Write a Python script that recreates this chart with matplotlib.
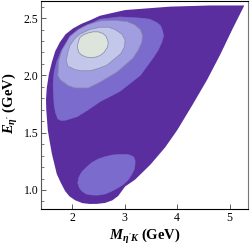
import matplotlib
matplotlib.use("Agg")
import matplotlib.pyplot as plt
from matplotlib.ticker import MultipleLocator, FixedLocator

plt.rcParams['mathtext.fontset'] = 'custom'
plt.rcParams['mathtext.rm'] = 'Liberation Serif'
plt.rcParams['mathtext.it'] = 'Liberation Serif:italic'
plt.rcParams['mathtext.bf'] = 'Liberation Serif:bold'
plt.rcParams['mathtext.bfit'] = 'Liberation Serif:bold:italic'
plt.rcParams['font.family'] = ['Liberation Serif', 'DejaVu Serif']

# Region boundaries (M_{eta'K}, E_{eta'}) in GeV
outer_x = [5.28, 4.63, 3.87, 3.01, 2.72, 2.53, 2.34, 2.18, 2.02, 1.88, 1.77, 1.68, 1.62, 1.56, 1.52, 1.505, 1.51, 1.54, 1.58, 1.62, 1.71, 1.79, 1.87, 1.95, 2.06, 2.20, 2.34, 2.48, 2.63, 2.77, 2.88, 3.01, 3.20, 3.49, 3.77, 4.00, 4.29, 4.57, 4.82, 5.05]
outer_y = [2.61, 2.61, 2.60, 2.57, 2.54, 2.52, 2.48, 2.45, 2.41, 2.36, 2.29, 2.21, 2.12, 2.01, 1.89, 1.79, 1.70, 1.52, 1.41, 1.31, 1.14, 1.06, 0.99, 0.945, 0.91, 0.885, 0.878, 0.879, 0.887, 0.91, 0.948, 1.03, 1.09, 1.22, 1.37, 1.52, 1.74, 1.96, 2.18, 2.40]

lev2_x = [1.73, 1.69, 1.66, 1.64, 1.66, 1.71, 1.79, 1.90, 2.04, 2.21, 2.53, 2.91, 3.30, 3.48, 3.62, 3.69, 3.73, 3.74, 3.71, 3.64, 3.54, 3.30, 2.91, 2.53, 2.31, 2.10, 1.89, 1.80]
lev2_y = [1.62, 1.67, 1.74, 1.92, 2.03, 2.12, 2.21, 2.29, 2.36, 2.42, 2.49, 2.51, 2.50, 2.49, 2.46, 2.43, 2.38, 2.34, 2.29, 2.22, 2.15, 2.00, 1.86, 1.77, 1.70, 1.64, 1.61, 1.605]

lev3_x = [1.73, 1.75, 1.81, 1.96, 2.12, 2.29, 2.53, 2.80, 3.05, 3.20, 3.30, 3.34, 3.33, 3.26, 3.16, 2.86, 2.53, 2.31, 2.06, 1.93, 1.87, 1.78]
lev3_y = [2.00, 2.13, 2.22, 2.34, 2.40, 2.44, 2.475, 2.48, 2.47, 2.44, 2.40, 2.35, 2.29, 2.22, 2.15, 2.03, 1.94, 1.89, 1.89, 1.91, 1.93, 1.96]

lev4_x = [1.89, 1.92, 1.96, 2.05, 2.15, 2.33, 2.53, 2.70, 2.82, 2.95, 3.01, 3.00, 2.93, 2.67, 2.50, 2.34, 2.18, 2.06, 1.92]
lev4_y = [2.13, 2.20, 2.26, 2.32, 2.36, 2.40, 2.42, 2.42, 2.40, 2.36, 2.31, 2.25, 2.19, 2.09, 2.06, 2.04, 2.04, 2.05, 2.08]

core_x = [2.10, 2.12, 2.15, 2.22, 2.31, 2.40, 2.50, 2.59, 2.65, 2.69, 2.68, 2.61, 2.54, 2.46, 2.36, 2.27, 2.19, 2.13]
core_y = [2.25, 2.29, 2.33, 2.355, 2.37, 2.38, 2.38, 2.365, 2.34, 2.29, 2.25, 2.20, 2.175, 2.16, 2.155, 2.16, 2.175, 2.20]

blob_x = [2.11, 2.13, 2.19, 2.28, 2.38, 2.50, 2.63, 2.77, 2.91, 3.02, 3.10, 3.17, 3.20, 3.20, 3.18, 3.13, 3.07, 2.98, 2.88, 2.76, 2.63, 2.50, 2.38, 2.27, 2.19, 2.14]
blob_y = [1.06, 1.11, 1.16, 1.20, 1.24, 1.27, 1.29, 1.305, 1.31, 1.31, 1.305, 1.29, 1.26, 1.22, 1.175, 1.13, 1.09, 1.05, 1.02, 0.99, 0.965, 0.955, 0.956, 0.965, 0.99, 1.02]

x_ticks = [2, 3, 4, 5]
y_ticks = [1.0, 1.5, 2.0, 2.5]
y_tick_labels = ["1.0", "1.5", "2.0", "2.5"]

c_dark = "#5a2e9f"
c_mid = "#7b6bcd"
c_l3 = "#a09de0"
c_l4 = "#c3c7ea"
c_core = "#dce4dc"
edge = "#8a86a8"

fig = plt.figure(figsize=(2.5, 2.48), dpi=100)
ax = fig.add_axes([41/250, 39/248, 207/250, 208/248])

ax.fill(outer_x, outer_y, color=c_dark, lw=0)
ax.fill(lev2_x, lev2_y, facecolor=c_mid, edgecolor=c_mid, lw=0.4)
ax.fill(blob_x, blob_y, facecolor=c_mid, edgecolor=c_mid, lw=0.4)
ax.fill(lev3_x, lev3_y, facecolor=c_l3, edgecolor=edge, lw=0.5)
ax.fill(lev4_x, lev4_y, facecolor=c_l4, edgecolor=edge, lw=0.5)
ax.fill(core_x, core_y, facecolor=c_core, edgecolor=edge, lw=0.5)

ax.set_xlim(1.41, 5.35)
ax.set_ylim(0.834, 2.649)
ax.xaxis.set_major_locator(FixedLocator(x_ticks))
ax.yaxis.set_major_locator(FixedLocator(y_ticks))
ax.set_yticklabels(y_tick_labels)
ax.yaxis.set_minor_locator(MultipleLocator(0.1))
ax.tick_params(which='both', direction='in', colors='#444444', labelcolor='black', labelsize=8.5, pad=2)
ax.tick_params(which='major', length=3.5, width=0.6)
ax.tick_params(which='minor', length=2, width=0.5)
for s in ax.spines.values():
    s.set_linewidth(0.8)
ax.spines['bottom'].set_color('black')
ax.spines['top'].set_color('black')
ax.spines['left'].set_color('#555555')
ax.spines['right'].set_color('#777777')

fig.text(145/250, 1 - 237/248, r"$\mathbfit{M}_{\mathbfit{\eta' K}}$ (GeV)", ha='center', va='center', fontsize=10.5, fontweight='bold')
fig.text(11/250, 1 - 103/248, r"$\mathbfit{E}_{\mathbfit{\eta'}}$ (GeV)", ha='center', va='center', fontsize=10.5, fontweight='bold', rotation=90)

fig.savefig("out.png", dpi=100)
